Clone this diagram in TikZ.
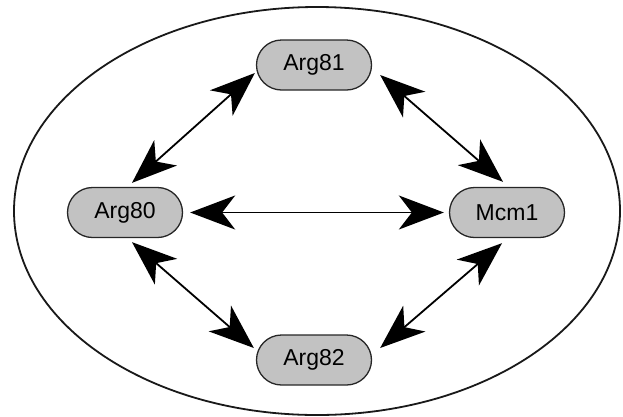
\documentclass[tikz,border=0pt]{standalone}
\usepackage{fontspec}
\setmainfont{Liberation Sans}
\usetikzlibrary{arrows.meta}
\tikzset{
  prot/.style={draw=black!85, line width=1.3pt, fill=black!24, rectangle, rounded corners=25pt,
    minimum width=115pt, minimum height=50pt, inner sep=0pt, font=\fontsize{23}{27}\selectfont},
  bi/.style={line width=1.8pt, {Stealth[length=45pt,width=34pt,inset=13pt]}-{Stealth[length=45pt,width=34pt,inset=13pt]}},
  cell/.style={draw=black!90, line width=1.8pt}
}
\begin{document}
\begin{tikzpicture}[x=1pt,y=-1pt]
\useasboundingbox (0,0) rectangle (623,416);
\draw[cell] (317,211) ellipse [x radius=303, y radius=204];
\node[prot] (a81) at (314,65) {Arg81};
\node[prot] (a80) at (125,212.5) {Arg80};
\node[prot] (mcm) at (507,212.5) {Mcm1};
\node[prot] (a82) at (314,360) {Arg82};
\draw[bi] ([xshift=7pt,yshift=4pt]a80.north) -- ([xshift=-1pt,yshift=-8pt]a81.west);
\draw[bi] ([xshift=8pt,yshift=-10pt]a81.east) -- ([xshift=-4pt,yshift=5pt]mcm.north);
\draw[bi] ([xshift=7pt,yshift=-4pt]a80.south) -- ([xshift=-2pt,yshift=12pt]a82.west);
\draw[bi] ([xshift=-5pt,yshift=-5pt]mcm.south) -- ([xshift=8pt,yshift=12pt]a82.east);
\draw[bi, shorten <=7pt, shorten >=5pt] (a80.east) -- (mcm.west);
\end{tikzpicture}
\end{document}
